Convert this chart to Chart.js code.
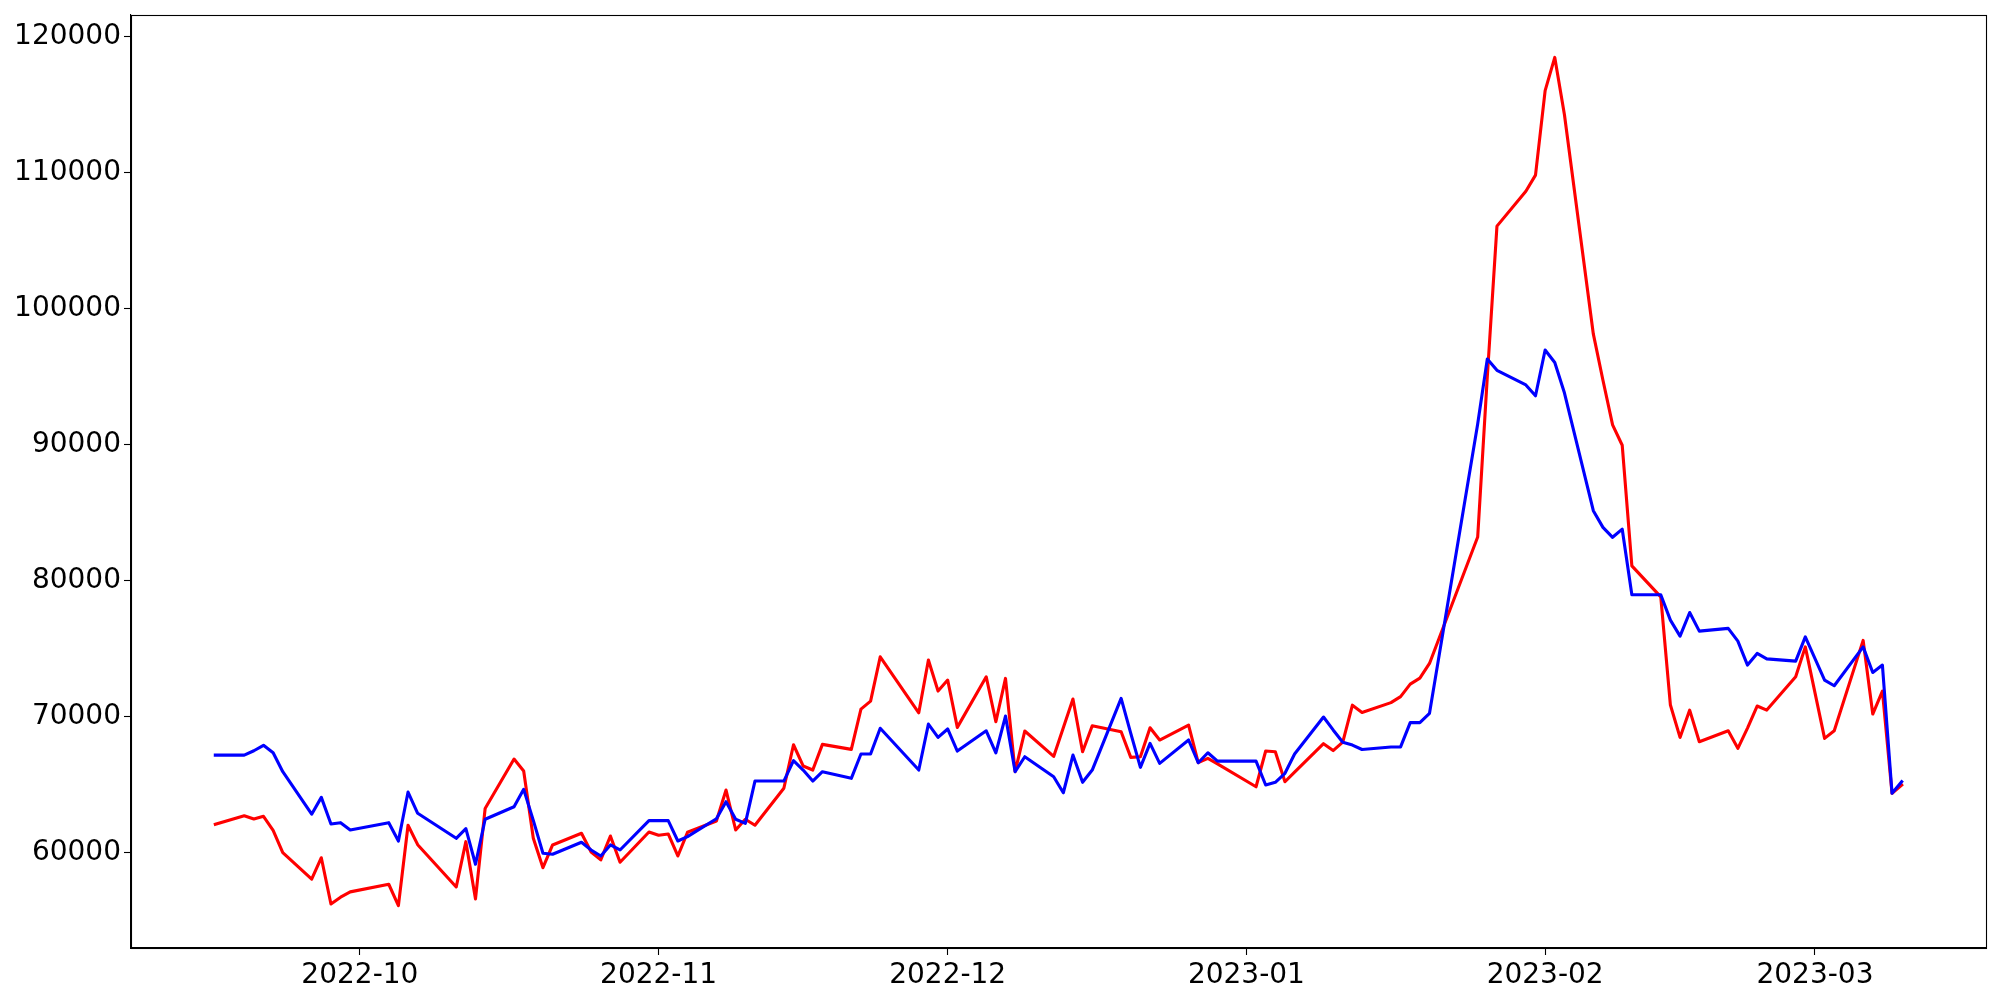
<!DOCTYPE html>
<html>
<head>
<meta charset="utf-8">
<script src="https://cdn.jsdelivr.net/npm/chart.js@4/dist/chart.umd.min.js"></script>
<style>
  html, body { margin: 0; padding: 0; background: #ffffff; }
  #wrap { width: 2000px; height: 1000px; }
</style>
</head>
<body>
<div id="wrap"><canvas id="c" width="2000" height="1000"></canvas></div>
<script>
const dates = [
  '2022-09-16','2022-09-19','2022-09-20','2022-09-21','2022-09-22','2022-09-23','2022-09-26','2022-09-27','2022-09-28','2022-09-29','2022-09-30',
  '2022-10-04','2022-10-05','2022-10-06','2022-10-07','2022-10-11','2022-10-12','2022-10-13','2022-10-14','2022-10-17','2022-10-18','2022-10-19','2022-10-20','2022-10-21','2022-10-24','2022-10-25','2022-10-26','2022-10-27','2022-10-28','2022-10-31',
  '2022-11-01','2022-11-02','2022-11-03','2022-11-04','2022-11-07','2022-11-08','2022-11-09','2022-11-10','2022-11-11','2022-11-14','2022-11-15','2022-11-16','2022-11-17','2022-11-18','2022-11-21','2022-11-22','2022-11-23','2022-11-24','2022-11-28','2022-11-29','2022-11-30',
  '2022-12-01','2022-12-02','2022-12-05','2022-12-06','2022-12-07','2022-12-08','2022-12-09','2022-12-12','2022-12-13','2022-12-14','2022-12-15','2022-12-16','2022-12-19','2022-12-20','2022-12-21','2022-12-22','2022-12-23','2022-12-26','2022-12-27','2022-12-28','2022-12-29',
  '2023-01-02','2023-01-03','2023-01-04','2023-01-05','2023-01-06','2023-01-09','2023-01-10','2023-01-11','2023-01-12','2023-01-13','2023-01-16','2023-01-17','2023-01-18','2023-01-19','2023-01-20','2023-01-25','2023-01-26','2023-01-27','2023-01-30','2023-01-31',
  '2023-02-01','2023-02-02','2023-02-03','2023-02-06','2023-02-07','2023-02-08','2023-02-09','2023-02-10','2023-02-13','2023-02-14','2023-02-15','2023-02-16','2023-02-17','2023-02-20','2023-02-21','2023-02-22','2023-02-23','2023-02-24','2023-02-27','2023-02-28',
  '2023-03-02','2023-03-03','2023-03-06','2023-03-07','2023-03-08','2023-03-09','2023-03-10'
];

const redSeries = [
  62060, 62690, 62450, 62650, 61620, 59970, 58020, 59600, 56200, 56700, 57090,
  57650, 56080, 61990, 60560, 57450, 60780, 56570, 63220, 66860, 65980, 61030, 58870, 60540, 61400, 60020, 59440, 61200, 59270, 61490,
  61250, 61350, 59730, 61470, 62300, 64580, 61640, 62430, 61990, 64710, 67910, 66350, 66050, 67940, 67570, 70530, 71120, 74380, 70260, 74140, 71860,
  72670, 69190, 72910, 69600, 72790, 65930, 68920, 67050, 69170, 71270, 67400, 69310, 68870, 66980, 67030, 69160, 68260, 69360, 66590, 66910, 66510,
  64820, 67450, 67400, 65190, 65900, 67990, 67480, 68100, 70820, 70280, 71010, 71450, 72370, 72810, 73890, 83190, 95000, 106060, 108630, 109810,
  116030, 118470, 114270, 98130, 94720, 91440, 89940, 81070, 78790, 70830, 68450, 70460, 68130, 68940, 67650, 69140, 70760, 70460, 72910, 75110,
  68380, 68940, 75590, 70170, 71860, 64340, 64950
];

const blueSeries = [
  67150, 67150, 67470, 67870, 67320, 65930, 62800, 64040, 62080, 62180, 61640,
  62180, 60830, 64430, 62870, 61030, 61740, 59120, 62430, 63350, 64630, 62350, 59930, 59860, 60740, 60170, 59730, 60540, 60170, 62330,
  62330, 62330, 60830, 61150, 62470, 63720, 62430, 62130, 65240, 65240, 66740, 66050, 65240, 65930, 65440, 67230, 67230, 69120, 66050, 69430, 68450,
  69070, 67450, 68940, 67320, 70020, 65930, 67030, 65560, 64380, 67150, 65150, 66050, 71320, 68750, 66250, 68010, 66540, 68260, 66590, 67320, 66710,
  66710, 64950, 65150, 65810, 67230, 69950, 69000, 68100, 67890, 67560, 67750, 67750, 69540, 69540, 70220, 91500, 96290, 95450, 94380, 93580,
  96950, 96030, 93800, 85130, 83900, 83170, 83770, 78950, 78950, 77080, 75900, 77640, 76270, 76470, 75530, 73770, 74630, 74230, 74060, 75850,
  72670, 72250, 75110, 73230, 73770, 64340, 65190
];

const xTickDates  = ['2022-10-01','2022-11-01','2022-12-01','2023-01-01','2023-02-01','2023-03-01'];
const xTickLabels = ['2022-10','2022-11','2022-12','2023-01','2023-02','2023-03'];
const yTickValues = [60000, 70000, 80000, 90000, 100000, 110000, 120000];

function dayNum(s) {
  const p = s.split('-').map(Number);
  return Date.UTC(p[0], p[1] - 1, p[2]) / 86400000;
}

const xs = dates.map(dayNum);
const redPts = xs.map((x, i) => ({ x: x, y: redSeries[i] }));
const bluePts = xs.map((x, i) => ({ x: x, y: blueSeries[i] }));

// matplotlib-like 5% margins
const xMin0 = Math.min(...xs), xMax0 = Math.max(...xs);
const xPad = (xMax0 - xMin0) * 0.05;
const allY = redSeries.concat(blueSeries);
const yMin0 = Math.min(...allY), yMax0 = Math.max(...allY);
const yPad = (yMax0 - yMin0) * 0.05;

const xTickMap = {};
xTickDates.forEach((d, i) => { xTickMap[dayNum(d)] = xTickLabels[i]; });

const FONT = { family: 'DejaVu Sans', size: 28 };

const framePlugin = {
  id: 'frame',
  beforeDraw(chart) {
    const ctx = chart.ctx;
    ctx.save();
    ctx.fillStyle = '#ffffff';
    ctx.fillRect(0, 0, chart.width, chart.height);
    ctx.restore();
  },
  afterDraw(chart) {
    const a = chart.chartArea;
    const ctx = chart.ctx;
    ctx.save();
    ctx.strokeStyle = '#000000';
    ctx.lineWidth = 1.1;
    ctx.strokeRect(Math.round(a.left) + 0.5, Math.round(a.top) + 0.5,
                   Math.round(a.right - a.left), Math.round(a.bottom - a.top));
    ctx.restore();
  }
};

new Chart(document.getElementById('c'), {
  type: 'line',
  data: {
    datasets: [
      {
        label: 'blue',
        data: bluePts,
        borderColor: '#0000ff',
        borderWidth: 3.1,
        pointRadius: 0,
        tension: 0,
        fill: false,
        borderJoinStyle: 'round',
        borderCapStyle: 'square'
      },
      {
        label: 'red',
        data: redPts,
        borderColor: '#ff0000',
        borderWidth: 3.1,
        pointRadius: 0,
        tension: 0,
        fill: false,
        borderJoinStyle: 'round',
        borderCapStyle: 'square'
      }
    ]
  },
  options: {
    responsive: false,
    animation: false,
    devicePixelRatio: 1,
    layout: { padding: { left: 0, top: 15, right: 14, bottom: 0 } },
    plugins: {
      legend: { display: false },
      tooltip: { enabled: false },
      title: { display: false }
    },
    scales: {
      x: {
        type: 'linear',
        min: xMin0 - xPad,
        max: xMax0 + xPad,
        afterBuildTicks(scale) {
          scale.ticks = xTickDates.map(d => ({ value: dayNum(d) }));
        },
        afterFit(scale) {
          scale.height = 52;
          scale.paddingLeft = 0;
          scale.paddingRight = 0;
        },
        ticks: {
          autoSkip: false,
          maxRotation: 0,
          minRotation: 0,
          padding: 4,
          color: '#000000',
          font: FONT,
          callback: (v) => xTickMap[v] !== undefined ? xTickMap[v] : ''
        },
        grid: {
          display: true,
          drawOnChartArea: false,
          drawTicks: true,
          tickLength: 7,
          tickColor: '#000000',
          tickWidth: 1.1
        },
        border: { display: true, color: '#000000', width: 1.1 }
      },
      y: {
        type: 'linear',
        min: yMin0 - yPad,
        max: yMax0 + yPad,
        afterBuildTicks(scale) {
          scale.ticks = yTickValues.map(v => ({ value: v }));
        },
        afterFit(scale) {
          scale.width = 131;
          scale.paddingTop = 0;
          scale.paddingBottom = 0;
        },
        ticks: {
          autoSkip: false,
          padding: 3,
          color: '#000000',
          font: FONT,
          callback: (v) => String(v)
        },
        grid: {
          display: true,
          drawOnChartArea: false,
          drawTicks: true,
          tickLength: 7,
          tickColor: '#000000',
          tickWidth: 1.1
        },
        border: { display: true, color: '#000000', width: 1.1 }
      }
    }
  },
  plugins: [framePlugin]
});
</script>
</body>
</html>
